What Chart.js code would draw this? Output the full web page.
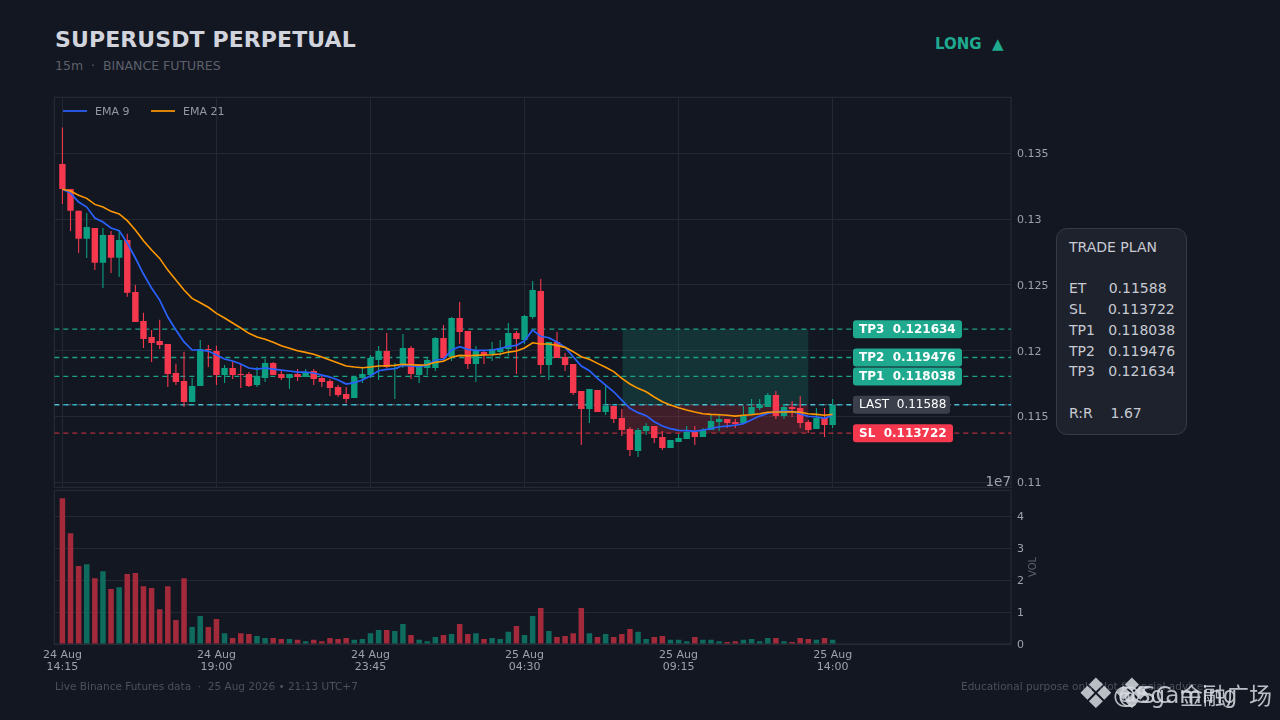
<!DOCTYPE html>
<html>
<head>
<meta charset="utf-8">
<title>SUPERUSDT PERPETUAL</title>
<script src="https://cdn.jsdelivr.net/npm/chart.js@4"></script>
<style>
  html, body { margin: 0; padding: 0; background: #131722; }
  body { width: 1280px; height: 720px; position: relative; overflow: hidden; font-family: "DejaVu Sans", sans-serif; }
  canvas { position: absolute; }
  .txt { position: absolute; white-space: pre; line-height: 1; }
  #title { left: 55px; top: 29px; font-size: 22px; font-weight: bold; color: #d1d4dc; letter-spacing: 0.1px; }
  #sub { left: 55px; top: 60px; font-size: 12.5px; color: #5d606b; }
  #side { left: 935px; top: 36.5px; font-size: 15px; font-weight: bold; color: #1fa98f; }
  #plan { position: absolute; left: 1056px; top: 228px; width: 129px; height: 205px; box-sizing: content-box;
          background: #1e222d; border: 1px solid #363a45; border-radius: 11px; color: #c8cbd3;
          font-size: 14px; line-height: 20.7px; white-space: pre; }
  #plan div { position: absolute; left: 12px; top: 8px; }
  #leg .k { position: absolute; top: 110px; width: 24px; height: 2px; opacity: 0.85; }
  #leg .txt { top: 106px; font-size: 11px; color: #9598a1; }
  #e7 { right: 269px; top: 475px; font-size: 13.5px; color: #9ea1aa; }
  #vol { left: 1023px; top: 562px; width: 20px; text-align: center; font-size: 10px; color: #5d606b; transform: rotate(-90deg); }
  #foot1 { left: 55px; top: 681px; font-size: 10.5px; color: #4c505b; }
  #foot2 { left: 961px; top: 681px; font-size: 10.5px; color: #4c505b; }
  .wm { position: absolute; font-size: 23px; color: rgba(215,218,224,0.85); }
</style>
</head>
<body>
<div class="txt" id="title">SUPERUSDT PERPETUAL</div>
<div class="txt" id="sub">15m  ·  BINANCE FUTURES</div>
<div class="txt" id="side">LONG  ▲</div>
<canvas id="priceChart" width="1060" height="400" style="left:20px;top:93px;width:1060px;height:400px"></canvas>
<canvas id="volChart" width="1060" height="200" style="left:20px;top:486px;width:1060px;height:200px"></canvas>
<div id="leg">
  <div class="k" style="left:63px;background:#2962ff"></div><div class="txt" style="left:95px">EMA 9</div>
  <div class="k" style="left:151px;background:#ff9800"></div><div class="txt" style="left:183px">EMA 21</div>
</div>
<div class="txt" id="e7">1e7</div>
<div class="txt" id="vol">VOL</div>
<div id="plan"><div>TRADE PLAN

ET     0.11588
SL     0.113722
TP1   0.118038
TP2   0.119476
TP3   0.121634

R:R    1.67</div></div>
<div class="txt" id="foot1">Live Binance Futures data  ·  25 Aug 2026 • 21:13 UTC+7</div>
<div class="txt" id="foot2">Educational purpose only. Not financial advice.</div>
<div class="txt wm" style="left:1077px;top:673px;font-size:42px">❖</div>
<div class="txt wm" style="left:1113px;top:673px;font-size:42px">❖</div>
<div class="txt wm" style="left:1113px;top:684px">@Sgaming</div>
<div class="txt wm" style="left:1118px;top:684px">@SC</div>
<div class="txt wm" style="left:1180px;top:683px;font-family:'Noto Sans CJK SC'">金融广场</div>

<script>
const green = '#0b9e80', red = '#f6384e';
const greenVol = '#0e6b5e', redVol = '#a32a3b';

const opens = [.13420,.13230,.13065,.12852,.12933,.12669,.12880,.12707,.12842,.12446,
  .12225,.12104,.12073,.12050,.11830,.11769,.11609,.11731,.12012,.11997,
  .11814,.11868,.11822,.11822,.11738,.11792,.11906,.11822,.11792,.11822,
  .11799,.11845,.11792,.11769,.11723,.11670,.11639,.11792,.11814,.11929,
  .11997,.11860,.11890,.12020,.11814,.11868,.11868,.12096,.11951,.12248,
  .12149,.11898,.11989,.11974,.11989,.12012,.12134,.12081,.12256,.12454,
  .11890,.12066,.11951,.11898,.11693,.11556,.11700,.11533,.11578,.11487,
  .11403,.11236,.11388,.11426,.11343,.11259,.11305,.11327,.11381,.11343,
  .11396,.11457,.11480,.11457,.11449,.11510,.11563,.11571,.11662,.11502,
  .11571,.11563,.11457,.11403,.11487,.11434];
const highs = [.13699,.13230,.13065,.13047,.12933,.12933,.12910,.12918,.12890,.12499,
  .12289,.12157,.12235,.12050,.11900,.11992,.11792,.12081,.12043,.12037,
  .11890,.11913,.11890,.11837,.11875,.11936,.11913,.11852,.11822,.11860,
  .11860,.11860,.11807,.11784,.11738,.11723,.11807,.11868,.11967,.12035,
  .12134,.11906,.12126,.12035,.11890,.11944,.12104,.12195,.12256,.12370,
  .12149,.12035,.12005,.12066,.12081,.12210,.12149,.12271,.12530,.12545,
  .12066,.12142,.11982,.11898,.11693,.11708,.11700,.11738,.11578,.11556,
  .11419,.11411,.11449,.11426,.11388,.11320,.11365,.11426,.11426,.11411,
  .11510,.11510,.11480,.11480,.11578,.11632,.11632,.11677,.11693,.11594,
  .11616,.11655,.11472,.11563,.11563,.11632];
const lows = [.13116,.12910,.12743,.12705,.12613,.12476,.12591,.12560,.12410,.12218,
  .12020,.11913,.12012,.11723,.11738,.11571,.11609,.11731,.11875,.11738,
  .11754,.11784,.11715,.11723,.11723,.11761,.11814,.11776,.11708,.11769,
  .11799,.11738,.11723,.11655,.11647,.11601,.11639,.11754,.11792,.11776,
  .11868,.11632,.11868,.11784,.11754,.11814,.11845,.11921,.11921,.12050,
  .11860,.11761,.11898,.11921,.11959,.11959,.11822,.12050,.12241,.11822,
  .11776,.11944,.11845,.11662,.11282,.11449,.11533,.11510,.11449,.11350,
  .11198,.11190,.11358,.11297,.11244,.11259,.11305,.11327,.11282,.11343,
  .11396,.11388,.11411,.11411,.11449,.11510,.11548,.11571,.11480,.11480,
  .11495,.11411,.11373,.11403,.11343,.11411];
const closes = [.13230,.13065,.12852,.12941,.12669,.12880,.12707,.12842,.12441,.12218,
  .12088,.12058,.12043,.11822,.11761,.11609,.11731,.12012,.12005,.11814,
  .11868,.11814,.11814,.11731,.11807,.11906,.11814,.11792,.11822,.11799,
  .11837,.11784,.11761,.11715,.11662,.11632,.11799,.11822,.11944,.11997,
  .11875,.11868,.12020,.11822,.11883,.11929,.12096,.11944,.12248,.12142,
  .11898,.11997,.11967,.12012,.12020,.12134,.12088,.12263,.12461,.11890,
  .12066,.11944,.11890,.11677,.11556,.11708,.11533,.11578,.11480,.11396,
  .11244,.11396,.11426,.11335,.11259,.11320,.11335,.11381,.11343,.11396,
  .11464,.11480,.11449,.11441,.11510,.11571,.11586,.11662,.11502,.11571,
  .11556,.11449,.11396,.11487,.11434,.11586];
const ema9 = [.13228,.13199,.13131,.13093,.13009,.12979,.12933,.12913,.12819,.12705,
  .12583,.12476,.12385,.12256,.12157,.12066,.12005,.12005,.11997,.11967,
  .11936,.11921,.11898,.11868,.11860,.11868,.11860,.11852,.11845,.11837,
  .11837,.11830,.11814,.11799,.11776,.11746,.11756,.11776,.11809,.11847,
  .11858,.11862,.11888,.11883,.11878,.11890,.11929,.11934,.12005,.12030,
  .12010,.12002,.12002,.12005,.12015,.12033,.12040,.12075,.12157,.12109,
  .12098,.12066,.12025,.11954,.11883,.11847,.11789,.11738,.11687,.11624,
  .11561,.11528,.11505,.11459,.11426,.11406,.11393,.11391,.11386,.11396,
  .11406,.11421,.11426,.11432,.11444,.11474,.11502,.11523,.11535,.11540,
  .11538,.11518,.11500,.11497,.11485,.11510];
const ema21 = [.13228,.13215,.13182,.13159,.13113,.13093,.13060,.13040,.12989,.12918,
  .12836,.12766,.12702,.12613,.12537,.12461,.12398,.12365,.12330,.12284,
  .12248,.12210,.12172,.12132,.12104,.12086,.12063,.12037,.12018,.11999,
  .11987,.11972,.11951,.11929,.11906,.11883,.11875,.11870,.11875,.11883,
  .11885,.11888,.11896,.11893,.11890,.11893,.11911,.11919,.11949,.11964,
  .11961,.11964,.11967,.11969,.11974,.11989,.11997,.12020,.12060,.12050,
  .12050,.12040,.12025,.11992,.11954,.11934,.11903,.11873,.11840,.11789,
  .11746,.11713,.11687,.11647,.11611,.11586,.11565,.11548,.11533,.11520,
  .11515,.11512,.11508,.11502,.11508,.11512,.11520,.11531,.11533,.11533,
  .11535,.11531,.11520,.11515,.11508,.11515];
const volumes = [4.56e7,3.47e7,2.44e7,2.50e7,2.06e7,2.28e7,1.72e7,1.78e7,2.19e7,2.22e7,
  1.81e7,1.75e7,1.09e7,1.81e7,0.75e7,2.06e7,0.53e7,0.88e7,0.53e7,0.78e7,
  0.34e7,0.19e7,0.34e7,0.31e7,0.25e7,0.19e7,0.19e7,0.16e7,0.16e7,0.13e7,
  0.09e7,0.13e7,0.09e7,0.19e7,0.16e7,0.19e7,0.13e7,0.16e7,0.34e7,0.44e7,
  0.44e7,0.41e7,0.63e7,0.28e7,0.13e7,0.09e7,0.22e7,0.28e7,0.31e7,0.63e7,
  0.31e7,0.34e7,0.16e7,0.19e7,0.16e7,0.38e7,0.56e7,0.28e7,0.88e7,1.13e7,
  0.41e7,0.22e7,0.25e7,0.34e7,1.13e7,0.34e7,0.22e7,0.31e7,0.22e7,0.31e7,
  0.47e7,0.38e7,0.16e7,0.22e7,0.25e7,0.13e7,0.13e7,0.09e7,0.22e7,0.13e7,
  0.13e7,0.09e7,0.06e7,0.09e7,0.13e7,0.16e7,0.09e7,0.19e7,0.19e7,0.09e7,
  0.06e7,0.19e7,0.16e7,0.13e7,0.19e7,0.13e7];

const priceTicks = [0.11, 0.115, 0.12, 0.125, 0.13, 0.135];
const volTicks = [0, 1e7, 2e7, 3e7, 4e7];
const timeTicks = [0, 19, 38, 57, 76, 95];
const timeLabels = [['24 Aug','14:15'],['24 Aug','19:00'],['24 Aug','23:45'],['25 Aug','04:30'],['25 Aug','09:15'],['25 Aug','14:00']];

const entry = 0.11588, stop = 0.113722, tp1 = 0.118038, tp2 = 0.119476, tp3 = 0.121634;
const zoneRange = [69.1, 92];
const xRange = [-1, 117];
const priceRange = [0.1096, 0.13928];
const volMax = 4.8125e7;

const gridColor = '#242832', frameColor = '#2a2e39', tickColor = '#9ea1aa';
const tickFont = { family: '"DejaVu Sans"', size: 11 };
const timeFont = { family: '"DejaVu Sans"', size: 11, lineHeight: 1.09 };

const idx = opens.map((_, i) => i);
const candleColors = idx.map(i => closes[i] >= opens[i] ? green : red);
const volColors = idx.map(i => closes[i] >= opens[i] ? greenVol : redVol);

function levelLine(value, color, dash, width, order) {
  return {
    type: 'line', data: xRange.map(x => ({ x: x, y: value })),
    borderColor: color, borderWidth: width || 1.4, borderDash: dash,
    pointRadius: 0, order: order || 10
  };
}

// the scales must not push the panels in for their labels
function noScalePadding(s) {
  s.paddingTop = 0; s.paddingBottom = 0; s.paddingLeft = 0; s.paddingRight = 0;
}

// frame round each panel
const panelFrame = {
  id: 'panelFrame',
  beforeDatasetsDraw(c) {
    const a = c.chartArea, ctx = c.ctx;
    ctx.save();
    ctx.strokeStyle = frameColor;
    ctx.lineWidth = 1;
    ctx.strokeRect(a.left, a.top, a.width, a.height);
    ctx.restore();
  }
};

// profit / risk boxes behind the candles
const zones = {
  id: 'zones',
  beforeDatasetsDraw(c) {
    const x = c.scales.x, y = c.scales.y, ctx = c.ctx;
    const x0 = x.getPixelForValue(zoneRange[0]), x1 = x.getPixelForValue(zoneRange[1]);
    const yTop = y.getPixelForValue(tp3), yMid = y.getPixelForValue(entry), yBot = y.getPixelForValue(stop);
    ctx.save();
    ctx.fillStyle = 'rgba(20,166,140,0.2)';
    ctx.fillRect(x0, yTop, x1 - x0, yMid - yTop);
    ctx.fillStyle = 'rgba(242,54,69,0.2)';
    ctx.fillRect(x0, yMid, x1 - x0, yBot - yMid);
    ctx.restore();
  }
};

// price tags on the level lines
const tags = [
  { text: 'TP3  0.121634', value: tp3, w: 109, bg: '#1fa98f', font: 'bold 12px "DejaVu Sans"' },
  { text: 'TP2  0.119476', value: tp2, w: 109, bg: '#1fa98f', font: 'bold 12px "DejaVu Sans"' },
  { text: 'TP1  0.118038', value: tp1, w: 109, bg: '#1fa98f', font: 'bold 12px "DejaVu Sans"' },
  { text: 'LAST  0.11588', value: entry, w: 97, bg: '#3a3f4b', font: '12px "DejaVu Sans"' },
  { text: 'SL  0.113722', value: stop, w: 100, bg: '#f6384e', font: 'bold 12px "DejaVu Sans"' }
];
const levelTags = {
  id: 'levelTags',
  afterDatasetsDraw(c) {
    const y = c.scales.y, ctx = c.ctx, left = 853 - 20;
    ctx.save();
    tags.forEach(t => {
      const py = y.getPixelForValue(t.value);
      ctx.fillStyle = t.bg;
      ctx.beginPath();
      ctx.roundRect(left, py - 9, t.w, 18, 3);
      ctx.fill();
      ctx.fillStyle = '#ffffff';
      ctx.font = t.font;
      ctx.textBaseline = 'middle';
      ctx.textAlign = 'left';
      ctx.fillText(t.text, left + 6, py + 0.5);
    });
    ctx.restore();
  }
};

new Chart(document.getElementById('priceChart'), {
  type: 'bar',
  data: {
    datasets: [
      { type: 'line', label: 'EMA 21', data: idx.map(i => ({ x: i, y: ema21[i] })), borderColor: '#ff9800', borderWidth: 1.6, pointRadius: 0, order: 0 },
      { type: 'line', label: 'EMA 9', data: idx.map(i => ({ x: i, y: ema9[i] })), borderColor: '#2962ff', borderWidth: 1.7, pointRadius: 0, order: 1 },
      { label: 'body', data: idx.map(i => ({ x: i, y: [opens[i], closes[i]] })), backgroundColor: candleColors, barThickness: 6.4, grouped: false, inflateAmount: 0, order: 2 },
      { label: 'wick', data: idx.map(i => ({ x: i, y: [lows[i], highs[i]] })), backgroundColor: candleColors, barThickness: 1.1, grouped: false, inflateAmount: 0, order: 3 },
      levelLine(tp3, 'rgba(31,169,143,0.95)', [5, 4]),
      levelLine(tp2, 'rgba(31,169,143,0.95)', [5, 4]),
      levelLine(tp1, 'rgba(31,169,143,0.95)', [5, 4]),
      levelLine(entry, 'rgba(38,198,218,0.85)', [5, 4]),
      levelLine(entry, 'rgba(210,220,230,0.6)', [5, 3, 1, 3], 0.7, 9),
      levelLine(stop, 'rgba(242,54,69,0.7)', [5, 4])
    ]
  },
  options: {
    responsive: false,
    animation: false,
    devicePixelRatio: 1,
    layout: { padding: { left: 34.3, top: 4.3, bottom: 5.7, right: 0 } },
    plugins: { legend: { display: false }, tooltip: { enabled: false } },
    scales: {
      x: {
        type: 'linear', min: xRange[0], max: xRange[1], offset: false,
        grid: { color: gridColor, offset: false, drawTicks: false },
        border: { display: false },
        ticks: { display: false },
        afterBuildTicks: s => { s.ticks = timeTicks.map(v => ({ value: v })); },
        afterFit: s => { s.height = 0; noScalePadding(s); }
      },
      y: {
        position: 'right', min: priceRange[0], max: priceRange[1],
        grid: { color: gridColor, drawTicks: false },
        border: { display: false },
        ticks: { color: tickColor, font: tickFont, padding: 6, labelOffset: 1, callback: v => String(v) },
        afterBuildTicks: s => { s.ticks = priceTicks.map(v => ({ value: v })); },
        afterFit: s => { s.width = 69; noScalePadding(s); }
      }
    }
  },
  plugins: [panelFrame, zones, levelTags]
});

new Chart(document.getElementById('volChart'), {
  type: 'bar',
  data: {
    datasets: [
      { label: 'VOL', data: idx.map(i => ({ x: i, y: volumes[i] })), backgroundColor: volColors, barThickness: 5.5, inflateAmount: 0 }
    ]
  },
  options: {
    responsive: false,
    animation: false,
    devicePixelRatio: 1,
    layout: { padding: { left: 34.3, top: 4.3, bottom: 0, right: 0 } },
    plugins: { legend: { display: false }, tooltip: { enabled: false } },
    scales: {
      x: {
        type: 'linear', min: xRange[0], max: xRange[1], offset: false,
        grid: { display: false, offset: false },
        border: { display: false },
        ticks: {
          color: tickColor, font: timeFont, padding: -3, maxRotation: 0, autoSkip: false,
          callback: v => timeLabels[timeTicks.indexOf(v)]
        },
        afterBuildTicks: s => { s.ticks = timeTicks.map(v => ({ value: v })); },
        afterFit: s => { s.height = 42; noScalePadding(s); }
      },
      y: {
        position: 'right', min: 0, max: volMax,
        grid: { color: gridColor, drawTicks: false },
        border: { display: false },
        ticks: { color: tickColor, font: tickFont, padding: 6, labelOffset: 1, callback: v => String(v / 1e7) },
        afterBuildTicks: s => { s.ticks = volTicks.map(v => ({ value: v })); },
        afterFit: s => { s.width = 69; noScalePadding(s); }
      }
    }
  },
  plugins: [panelFrame]
});
</script>
</body>
</html>
